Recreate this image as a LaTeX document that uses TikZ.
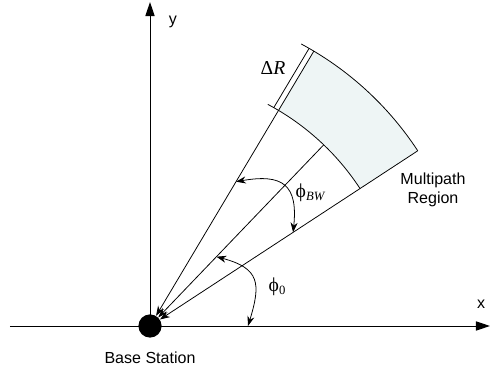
\documentclass[tikz,border=0pt]{standalone}
\usepackage{fontspec}
\setmainfont{Liberation Sans}
\newfontfamily\symfont{Liberation Serif}
\usetikzlibrary{arrows.meta}
\definecolor{regionfill}{RGB}{238,245,245}

\begin{document}
\begin{tikzpicture}[
    x=0.025cm, y=0.025cm,
    font=\fontsize{11.4}{13.5}\selectfont,
    axis/.style={draw, line width=0.7pt, -{Triangle[length=10pt, width=6.5pt]}},
    ray/.style={draw, line width=0.55pt, -{Stealth[length=7pt, width=5pt]}},
    bendarrow/.style={draw, line width=0.55pt, {Stealth[length=7pt, width=5pt]}-{Stealth[length=7pt, width=5pt]}},
    border/.style={draw, line width=0.55pt},
    greek/.style={font=\symfont\fontsize{14}{16}\selectfont},
    station/.style={circle, fill=black, inner sep=0pt, minimum size=0.58cm}
]
\useasboundingbox (-150,-46) rectangle (340,326);

% Region
\fill[regionfill] (33.2:251) arc[start angle=33.2, end angle=59.2, radius=251]
    -- (59.2:320) arc[start angle=59.2, end angle=33.2, radius=320] -- cycle;
\draw[border] (33.2:251) arc[start angle=33.2, end angle=62, radius=251];
\draw[border] (33.2:320) arc[start angle=33.2, end angle=61.8, radius=320];
\draw[border] ([shift={(149.2:5.5)}]59.2:251) -- ([shift={(149.2:5.5)}]59.2:320);

% Nodes
\node[station] (bs) at (0,0) {};
\coordinate (xstart) at (-140,0);
\coordinate (xend) at (340,0);
\coordinate (yend) at (0,324);
\coordinate (upper) at (59.2:320);
\coordinate (middle) at (46.2:251);
\coordinate (lower) at (33.2:320);
\coordinate (bwstart) at (59.2:168);
\coordinate (bwend) at (33.2:171);
\coordinate (zerostart) at (46.2:96);
\coordinate (zeroend) at (98,0);

\node[greek] (phibw) at (160,133) {ϕ\raisebox{-0.35ex}{\fontsize{9}{10}\selectfont\itshape BW}};
\node[greek] (phizero) at (127,39) {ϕ\raisebox{-0.35ex}{\fontsize{9}{10}\selectfont 0}};
\node[greek] (deltar) at (123,258) {Δ\textit{R}};
\node[align=center] (region) at (283,136) {Multipath\\Region};
\node (station) at (0,-32) {Base Station};
\node (ylabel) at (23,304) {y};
\node (xlabel) at (331,22) {x};

% Axes
\draw[axis] (xstart) -- (xend);
\draw[axis] (bs.center) -- (yend);

% Arrows
\draw[ray] (upper) -- (bs);
\draw[ray] (middle) -- (bs);
\draw[ray] (lower) -- (bs);
\draw[bendarrow] (bwstart) to[out=10, in=84, looseness=1.6] (bwend);
\draw[bendarrow] (zerostart) to[out=-15, in=73, looseness=1.5] (zeroend);

\end{tikzpicture}
\end{document}
